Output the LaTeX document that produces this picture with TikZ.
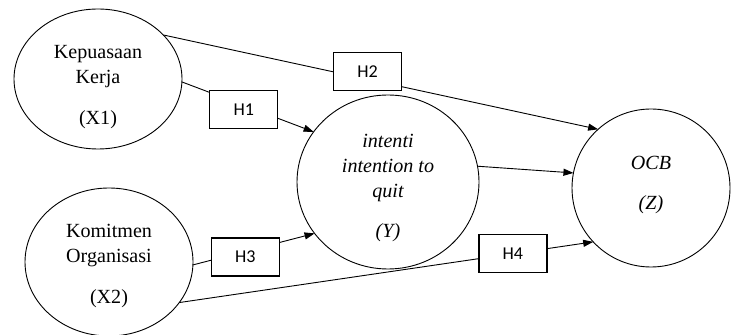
\documentclass[tikz,border=0pt]{standalone}
\usepackage{fontspec}
\setmainfont{Liberation Serif}
\newfontfamily\hypfont{Carlito}
\usepackage{tikz}
\usetikzlibrary{shapes.geometric,arrows.meta,positioning,calc}

\begin{document}
\begin{tikzpicture}[
    var/.style={draw, ellipse, line width=0.9pt, outer sep=0pt, inner sep=0pt},
    vartext/.style={align=center, font=\fontsize{20}{25}\selectfont},
    hyp/.style={draw, fill=white, line width=1.2pt, minimum width=2.38cm,
      minimum height=1.33cm, font=\hypfont\fontsize{18}{20}\selectfont},
    link/.style={line width=0.9pt, -{Triangle[length=10pt,width=7pt]}}]
  \useasboundingbox (0,0) rectangle (25.585,11.725);
  % variables
  \node[var, minimum width=5.88cm, minimum height=4.9cm,
    label={[vartext, yshift=-8pt]center:Kepuasaan\\Kerja\\[16pt](X1)}]
    (x1) at (3.43,8.96) {};
  \node[var, minimum width=5.88cm, minimum height=5.18cm,
    label={[vartext, yshift=-4pt]center:Komitmen\\Organisasi\\[16pt](X2)}]
    (x2) at (3.815,2.555) {};
  \node[var, minimum width=6.37cm, minimum height=6.09cm,
    label={[vartext, font=\fontsize{20}{25}\selectfont\itshape, yshift=-6pt]center:intenti\\intention to\\quit\\[15pt](Y)}]
    (y) at (13.58,5.355) {};
  \node[var, minimum width=5.53cm, minimum height=5.53cm,
    label={[vartext, font=\fontsize{20}{25}\selectfont\itshape, yshift=3pt]center:OCB\\[15pt](Z)}]
    (z) at (22.785,5.145) {};
  % paths with hypotheses
  \draw[link] (x1.34) -- node[hyp, pos=0.47, yshift=0.27cm] (h2) {H2} (z.132);
  \draw[link] (x1.-2) -- node[hyp, pos=0.47, yshift=-0.14cm] (h1) {H1} (y.146);
  \draw[link] (x2.-2) -- node[hyp, pos=0.43, yshift=-0.2cm] (h3) {H3} (y.215);
  \draw[link] (x2.-30) -- node[hyp, pos=0.806] (h4) {H4} (z.223);
  \draw[link] (y.10) -- (z.169);
\end{tikzpicture}
\end{document}
